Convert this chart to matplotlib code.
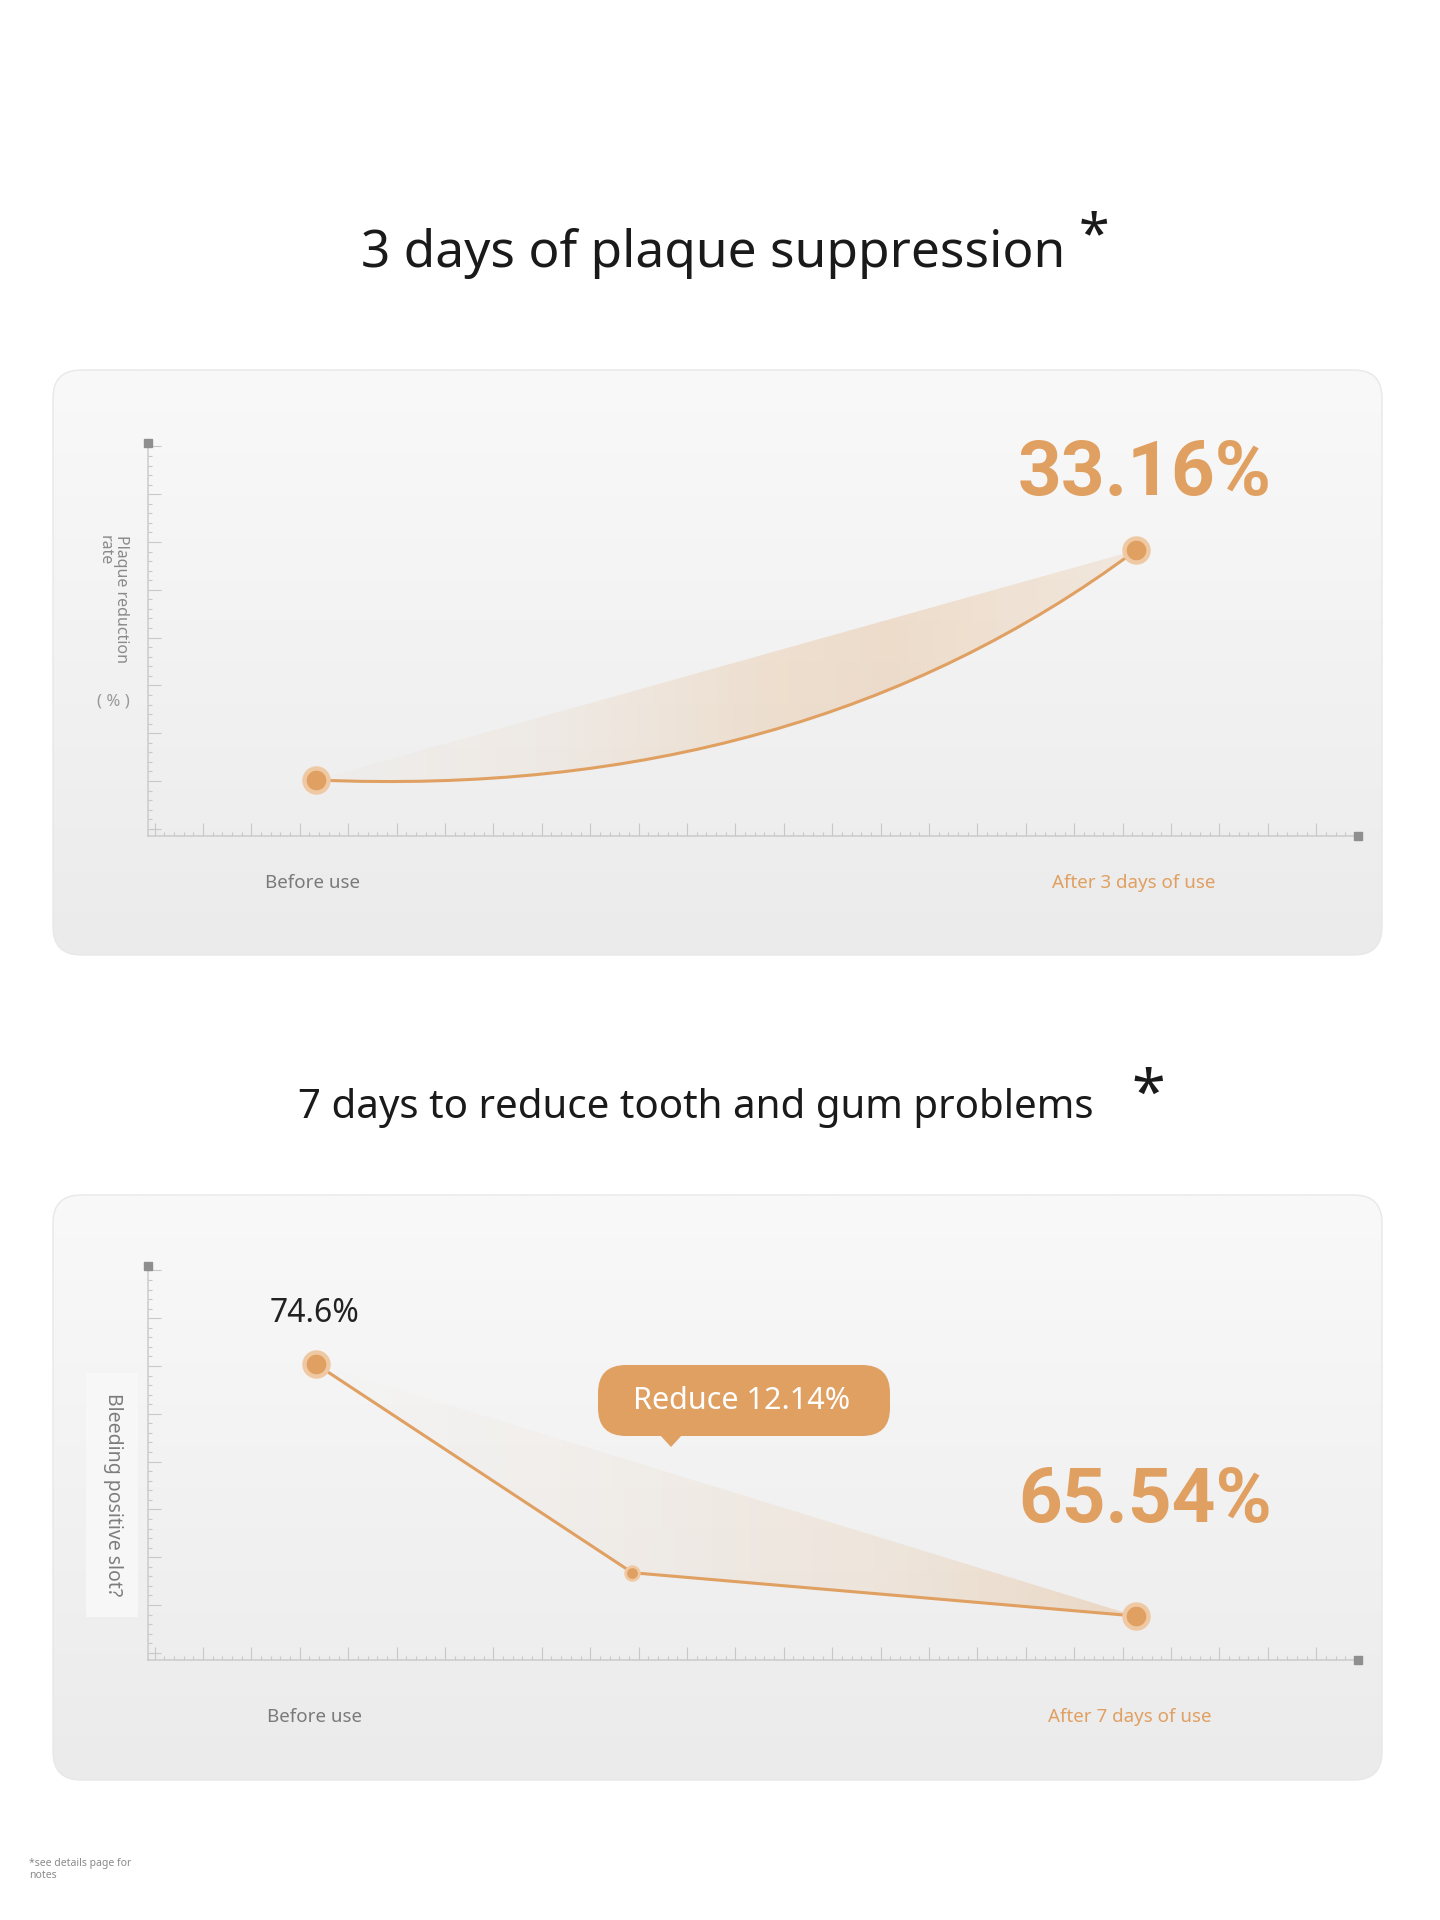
import numpy as np
import matplotlib
matplotlib.use("Agg")
import matplotlib.pyplot as plt
import matplotlib.colors as mcolors
from matplotlib.patches import FancyBboxPatch, PathPatch, Polygon, Rectangle
from matplotlib.path import Path
from matplotlib.ticker import MultipleLocator

plt.rcParams['font.family'] = ['Noto Sans', 'DejaVu Sans']

# ---------------- data ----------------
title1 = "3 days of plaque suppression"
title2 = "7 days to reduce tooth and gum problems"

p1_days = [0, 3]
p1_values = [6.5, 33.16]
p1_labels = ["Before use", "After 3 days of use"]
p1_headline = "33.16%"
p1_ylabel = "Plaque reduction\nrate"
p1_unit = "( % )"

p2_days = [0, 2.7, 7]
p2_values = [74.6, 67.1, 65.54]
p2_labels = ["Before use", "After 7 days of use"]
p2_start_label = "74.6%"
p2_headline = "65.54%"
p2_bubble = "Reduce 12.14%"
p2_ylabel = "Bleeding positive slot?"

footnote = "*see details page for\nnotes"

# ---------------- style ----------------
ORANGE = '#e0a062'
HALO = '#efc9a3'
W, H = 1440, 1920

fig = plt.figure(figsize=(W / 100, H / 100), dpi=100)
fig.patch.set_facecolor('white')

bg = fig.add_axes([0, 0, 1, 1])
bg.set_zorder(0)
bg.axis('off')


def panel(y0, y1, x0=53, x1=1382):
    patch = FancyBboxPatch((x0, y0), x1 - x0, y1 - y0,
                           boxstyle="round,pad=0,rounding_size=28",
                           fc='none', ec='#e8e8e8', lw=1.0, zorder=1)
    bg.add_patch(patch)
    top = np.array(mcolors.to_rgb('#f9f9f9'))
    bot = np.array(mcolors.to_rgb('#ebebeb'))
    t = np.linspace(0, 1, 256)[:, None, None]
    arr = top * (1 - t) + bot * t
    arr = np.repeat(arr, 2, axis=1)
    im = bg.imshow(arr, extent=(x0, x1, y1, y0), aspect='auto',
                   interpolation='bilinear', zorder=0.5)
    im.set_clip_path(patch)


panel(370, 955)
panel(1195, 1780)


def make_axes(top_px, bottom_px, left_px=148, right_px=1358):
    ax = fig.add_axes([left_px / W, 1 - bottom_px / H,
                       (right_px - left_px) / W, (bottom_px - top_px) / H])
    ax.set_zorder(2)
    ax.patch.set_alpha(0)
    return ax, right_px - left_px, bottom_px - top_px


def ruler(ax, wpx, hpx):
    for s in ('top', 'right'):
        ax.spines[s].set_visible(False)
    for s in ('left', 'bottom'):
        ax.spines[s].set_color('#cbcbcb')
        ax.spines[s].set_linewidth(1.1)
    x0, x1 = ax.get_xlim()
    y0, y1 = ax.get_ylim()
    sx = (x1 - x0) / wpx
    sy = (y1 - y0) / hpx
    ax.xaxis.set_major_locator(MultipleLocator(48.4 * sx, offset=x0 + 55 * sx))
    ax.xaxis.set_minor_locator(MultipleLocator(48.4 / 5 * sx, offset=x0 + 55 * sx))
    ax.yaxis.set_major_locator(MultipleLocator(47.8 * sy, offset=y0 + 55 * sy))
    ax.yaxis.set_minor_locator(MultipleLocator(47.8 / 5 * sy, offset=y0 + 55 * sy))
    ax.tick_params(which='both', direction='in', colors='#c8c8c8',
                   labelbottom=False, labelleft=False, width=0.8)
    ax.tick_params(which='major', length=9.5)
    ax.tick_params(which='minor', length=3.2)
    ax.plot([0], [1], marker='s', ms=5.5, color='#8f8f8f',
            transform=ax.transAxes, clip_on=False, zorder=5)
    ax.plot([1], [0], marker='s', ms=5.5, color='#8f8f8f',
            transform=ax.transAxes, clip_on=False, zorder=5)


def gradient_fill(ax, clip_patch, xa, xb, stops_x, stops_a, color):
    ylo, yhi = ax.get_ylim()
    xs = np.linspace(0, 1, 256)
    alpha = np.interp(xs, stops_x, stops_a)
    rgba = np.zeros((2, 256, 4))
    rgba[..., :3] = mcolors.to_rgb(color)
    rgba[..., 3] = alpha[None, :]
    im = ax.imshow(rgba, extent=(xa, xb, ylo, yhi), aspect='auto',
                   interpolation='bilinear', zorder=2)
    im.set_clip_path(clip_patch)


def markers(ax, xs, ys, halo_s, core_s):
    ax.scatter(xs, ys, s=halo_s, color=HALO, zorder=4, clip_on=False, lw=0)
    ax.scatter(xs, ys, s=core_s, color=ORANGE, zorder=5, clip_on=False, lw=0)


# ---------------- panel 1 ----------------
ax1, w1, h1 = make_axes(443, 836)
ax1.set_xlim(-0.6146, 3.8122)
ax1.set_ylim(0, 45.6)
ruler(ax1, w1, h1)

P0 = (p1_days[0], p1_values[0])
P2 = (p1_days[1], p1_values[1])
C = (P0[0] + 0.59 * (P2[0] - P0[0]), P0[1] - 0.09 * (P2[1] - P0[1]))
line_path = Path([P0, C, P2], [Path.MOVETO, Path.CURVE3, Path.CURVE3])
ax1.add_patch(PathPatch(line_path, fc='none', ec=ORANGE, lw=2.2, zorder=3,
                        capstyle='round'))
fill_path = Path([P0, C, P2, P0, P0],
                 [Path.MOVETO, Path.CURVE3, Path.CURVE3, Path.LINETO, Path.CLOSEPOLY])
fill_patch = PathPatch(fill_path, fc='none', ec='none')
ax1.add_patch(fill_patch)
gradient_fill(ax1, fill_patch, P0[0], P2[0],
              [0, 0.3, 0.55, 0.7, 1.0], [0.02, 0.09, 0.24, 0.28, 0.16], '#e2a465')
ax1.set_xlim(-0.6146, 3.8122)
ax1.set_ylim(0, 45.6)
markers(ax1, p1_days, p1_values, 420, 200)

ax1.annotate(p1_headline, xy=P2, xytext=(9, 55), textcoords='offset pixels',
             ha='center', va='baseline', fontsize=55, fontweight='semibold',
             color=ORANGE, family=['Roboto', 'DejaVu Sans'])
for xd, lab, col, dx in zip(p1_days, p1_labels, ['#7a7a7a', ORANGE], [-3, -2]):
    ax1.annotate(lab, xy=(xd, 0), xycoords=('data', 'axes fraction'),
                 xytext=(dx, -52), textcoords='offset pixels',
                 ha='center', va='baseline', fontsize=13.5, color=col)

# ---------------- panel 2 ----------------
ax2, w2, h2 = make_axes(1266, 1660)
ax2.set_xlim(-1.434, 8.895)
ax2.set_ylim(63.96, 78.13)
ruler(ax2, w2, h2)

ax2.plot(p2_days, p2_values, color=ORANGE, lw=2.2, zorder=3,
         solid_joinstyle='round', solid_capstyle='round')
tri = Polygon(list(zip(p2_days, p2_values)), closed=True, fc='none', ec='none')
ax2.add_patch(tri)
gradient_fill(ax2, tri, p2_days[0], p2_days[-1],
              [0, 0.35, 0.7, 0.9, 1.0], [0.0, 0.06, 0.15, 0.25, 0.32], '#e2a465')
ax2.set_xlim(-1.434, 8.895)
ax2.set_ylim(63.96, 78.13)
markers(ax2, [p2_days[0], p2_days[-1]], [p2_values[0], p2_values[-1]], 420, 200)
markers(ax2, [p2_days[1]], [p2_values[1]], 140, 60)

ax2.annotate(p2_start_label, xy=(p2_days[0], p2_values[0]), xytext=(-1, 42),
             textcoords='offset pixels', ha='center', va='baseline',
             fontsize=23, color='#222222')
ax2.annotate(p2_headline, xy=(p2_days[-1], p2_values[-1]), xytext=(9, 94),
             textcoords='offset pixels', ha='center', va='baseline',
             fontsize=55, fontweight='semibold', color=ORANGE,
             family=['Roboto', 'DejaVu Sans'])
for xd, lab, col, dx in zip([p2_days[0], p2_days[-1]], p2_labels,
                            ['#7a7a7a', ORANGE], [-1, -6]):
    ax2.annotate(lab, xy=(xd, 0), xycoords=('data', 'axes fraction'),
                 xytext=(dx, -62), textcoords='offset pixels',
                 ha='center', va='baseline', fontsize=13.5, color=col)

# ---------------- page texts ----------------
bg.text(713, 267, title1, ha='center', va='baseline', fontsize=37, color='#1a1a1a')
bg.text(1094, 252, '*', ha='center', va='baseline', fontsize=40,
        fontweight='bold', color='#1a1a1a')
bg.text(696, 1118, title2, ha='center', va='baseline', fontsize=29, color='#1a1a1a')
bg.text(1148, 1113, '*', ha='center', va='baseline', fontsize=44,
        fontweight='bold', color='#1a1a1a')

bg.text(113, 535, p1_ylabel, rotation=-90, ha='center', va='top',
        multialignment='left', fontsize=11.5, color='#8a8a8a', linespacing=1.0)
bg.text(113, 701, p1_unit, ha='center', va='center', fontsize=12, color='#999999')

bg.add_patch(Rectangle((86, 1373), 52, 244, fc='#f7f7f7', ec='none', zorder=1))
bg.text(113, 1495, p2_ylabel, rotation=-90, ha='center', va='center',
        fontsize=14, color='#7d7d7d', zorder=2)

bubble = FancyBboxPatch((598, 1365), 292, 71, boxstyle="round,pad=0,rounding_size=28",
                        fc=ORANGE, ec='none', zorder=3)
bg.add_patch(bubble)
bg.add_patch(Polygon([(660, 1435), (682, 1435), (671, 1447)], closed=True,
                     fc=ORANGE, ec='none', zorder=3))
bg.text(742, 1401, p2_bubble, ha='center', va='center', fontsize=22,
        color='white', zorder=4)

bg.text(29, 1858, footnote, ha='left', va='top', fontsize=7.5,
        color='#8a8a8a', linespacing=1.15)

bg.set_xlim(0, W)
bg.set_ylim(H, 0)

fig.savefig('out.png', dpi=100)
